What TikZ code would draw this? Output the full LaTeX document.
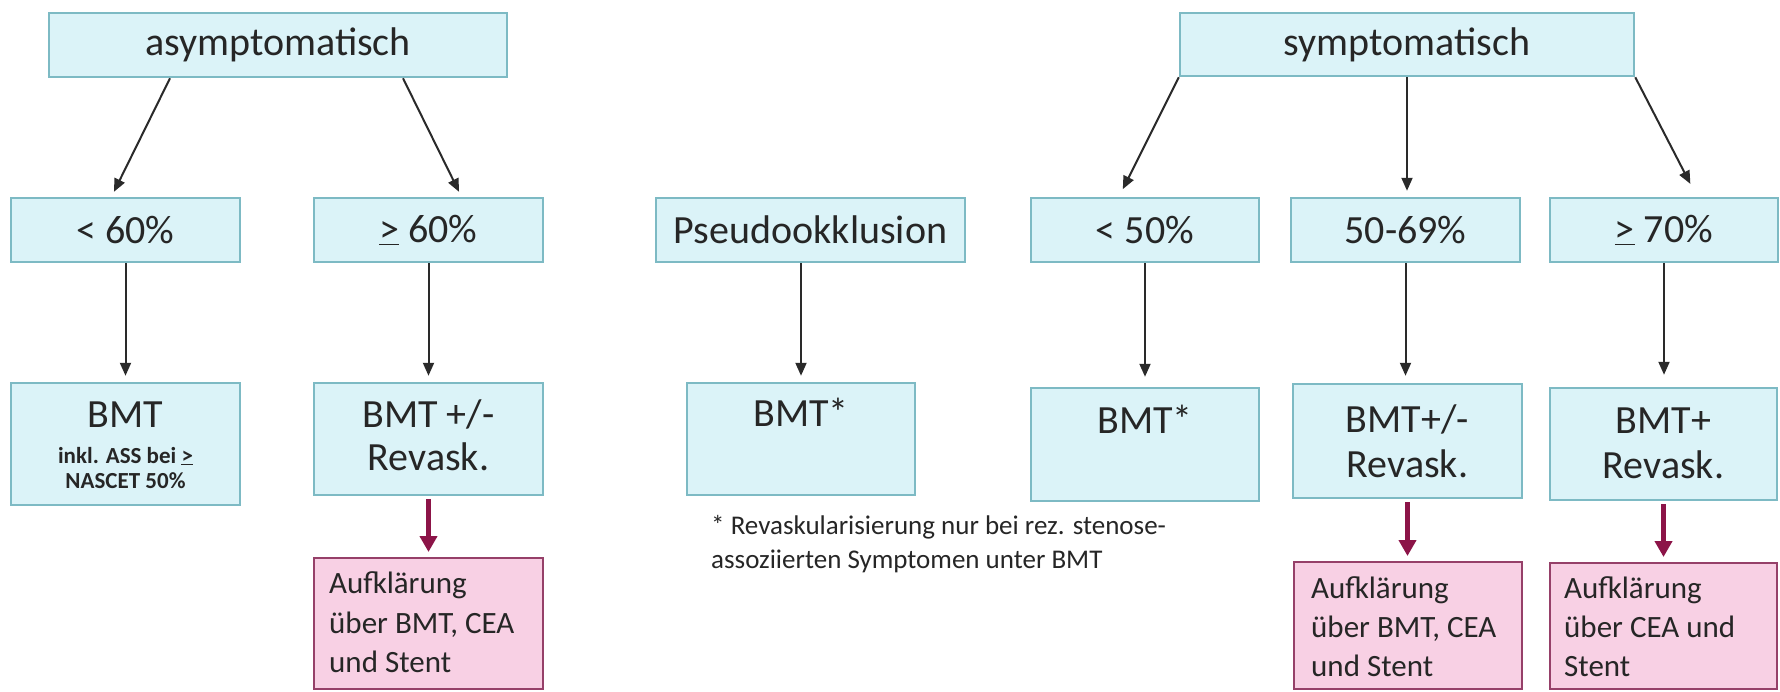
\documentclass[tikz,border=0pt]{standalone}
\usepackage{fontspec}
\setmainfont{Carlito}
\usetikzlibrary{arrows.meta,calc}
\definecolor{boxfill}{HTML}{DBF3F8}
\definecolor{boxline}{HTML}{7DBAC4}
\definecolor{pinkfill}{HTML}{F8D0E4}
\definecolor{pinkline}{HTML}{964069}
\definecolor{redarrow}{HTML}{8C1448}
\definecolor{arrowcol}{HTML}{2A2A2A}
\definecolor{txtcol}{HTML}{262626}
\begin{document}
\begin{tikzpicture}[x=1pt,y=-1pt,
 bluebox/.style={draw=boxline, fill=boxfill, line width=2.5pt, inner sep=0pt, text=txtcol, font=\fontsize{40}{48}\selectfont},
 pinkbox/.style={draw=pinkline, fill=pinkfill, line width=2pt, inner sep=0pt},
 bigtext/.style={inner sep=0pt, anchor=base, text=txtcol, font=\fontsize{40}{48}\selectfont},
 smalltext/.style={inner sep=0pt, anchor=base, text=txtcol, font=\bfseries\fontsize{23}{25}\selectfont},
 pinktext/.style={inner sep=0pt, anchor=base west, text=txtcol, font=\fontsize{31}{39}\selectfont},
 notetext/.style={inner sep=0pt, anchor=base west, text=txtcol, font=\fontsize{27}{34}\selectfont},
 arr/.style={draw=arrowcol, line width=2pt, -{Triangle[length=13pt,width=11pt]}},
 redarr/.style={draw=redarrow, line width=5.5pt, -{Triangle[length=16pt,width=17pt]}},
]
\useasboundingbox[fill=white] (0,0) rectangle (1780,691);

% header boxes
\node[bluebox, minimum width=458pt, minimum height=64pt] (asy) at (278,45) {asymptomatisch};
\node[bluebox, minimum width=454pt, minimum height=63pt] (sym) at (1407,44.5) {symptomatisch};

% row 2
\node[bluebox, minimum width=229pt, minimum height=64pt] (lt60) at (125.5,230) {< 60\%};
\node[bluebox, minimum width=229pt, minimum height=64pt] (ge60) at (428.5,230) {\underline{>} 60\%};
\node[bluebox, minimum width=309pt, minimum height=64pt] (pseudo) at (810.5,230) {Pseudookklusion};
\node[bluebox, minimum width=228pt, minimum height=64pt] (lt50) at (1145,230) {< 50\%};
\node[bluebox, minimum width=229pt, minimum height=64pt] (r5069) at (1405.5,230) {50-69\%};
\node[bluebox, minimum width=228pt, minimum height=64pt] (ge70) at (1664,230) {\underline{>} 70\%};

% row 3
\node[bluebox, minimum width=229pt, minimum height=122pt] (bmt1) at (125.5,444) {};
\node[bluebox, minimum width=229pt, minimum height=112pt] (bmt2) at (428.5,439) {};
\node[bluebox, minimum width=228pt, minimum height=112pt] (bmt3) at (801,439) {};
\node[bluebox, minimum width=228pt, minimum height=113pt] (bmt4) at (1145,444.5) {};
\node[bluebox, minimum width=229pt, minimum height=114pt] (bmt5) at (1407.5,441) {};
\node[bluebox, minimum width=227pt, minimum height=112pt] (bmt6) at (1663.5,444) {};

% pink boxes
\node[pinkbox, minimum width=229pt, minimum height=131pt] (p1) at (428.5,623.5) {};
\node[pinkbox, minimum width=228pt, minimum height=127pt] (p2) at (1408,625.5) {};
\node[pinkbox, minimum width=227pt, minimum height=126pt] (p3) at (1663.5,626) {};

% row 3 texts
\node[bigtext] (t1a) at (125.5,427) {BMT};
\node[smalltext] (t1b) at (125.5,463) {inkl. ASS bei \underline{>}};
\node[smalltext] (t1c) at (125.5,488) {NASCET 50\%};
\node[bigtext] (t2a) at (428.5,427) {BMT +/-};
\node[bigtext] (t2b) at (428.5,470) {Revask.};
\node[bigtext] (t3a) at (801,426) {BMT*};
\node[bigtext] (t4a) at (1145,433) {BMT*};
\node[bigtext] (t5a) at (1407.5,432) {BMT+/-};
\node[bigtext] (t5b) at (1407.5,477) {Revask.};
\node[bigtext] (t6a) at (1663.5,433) {BMT+};
\node[bigtext] (t6b) at (1663.5,478) {Revask.};

% pink texts
\node[pinktext] (q1a) at (329,593) {Aufklärung};
\node[pinktext] (q1b) at (329,633) {über BMT, CEA};
\node[pinktext] (q1c) at (329,672) {und Stent};
\node[pinktext] (q2a) at (1311,598) {Aufklärung};
\node[pinktext] (q2b) at (1311,637) {über BMT, CEA};
\node[pinktext] (q2c) at (1311,676) {und Stent};
\node[pinktext] (q3a) at (1564,598) {Aufklärung};
\node[pinktext] (q3b) at (1564,637) {über CEA und};
\node[pinktext] (q3c) at (1564,676) {Stent};

% footnote
\node[notetext] (n1) at (711,534) {* Revaskularisierung nur bei rez. stenose-};
\node[notetext] (n2) at (711,568) {assoziierten Symptomen unter BMT};

% arrows from headers
\draw[arr, shorten >=5.5pt] ($(asy.south)+(-108,0)$) -- ($(lt60.north)+(-14,0)$);
\draw[arr, shorten >=5.5pt] ($(asy.south)+(125,0)$) -- ($(ge60.north)+(33,0)$);
\draw[arr, shorten >=8.5pt] (sym.south west) -- ($(lt50.north)+(-26,0)$);
\draw[arr, shorten >=6pt] (sym.south) -- (sym.south |- r5069.north);
\draw[arr, shorten >=14.5pt] (sym.south east) -- ($(ge70.north)+(33,0)$);

% vertical arrows
\draw[arr, shorten >=6pt] (lt60.south) -- (bmt1.north);
\draw[arr, shorten >=6pt] (ge60.south) -- (bmt2.north);
\draw[arr, shorten >=6pt] (bmt3.north |- pseudo.south) -- (bmt3.north);
\draw[arr, shorten >=10pt] (lt50.south) -- (bmt4.north);
\draw[arr, shorten >=7pt] (r5069.south) -- (r5069.south |- bmt5.north);
\draw[arr, shorten >=12pt] (ge70.south) -- (ge70.south |- bmt6.north);

% red arrows
\draw[redarr, shorten <=3pt, shorten >=5pt] (bmt2.south) -- (p1.north);
\draw[redarr, shorten <=3pt, shorten >=5pt] (bmt5.south) -- (bmt5.south |- p2.north);
\draw[redarr, shorten <=3pt, shorten >=5pt] (bmt6.south) -- (bmt6.south |- p3.north);
\end{tikzpicture}
\end{document}
